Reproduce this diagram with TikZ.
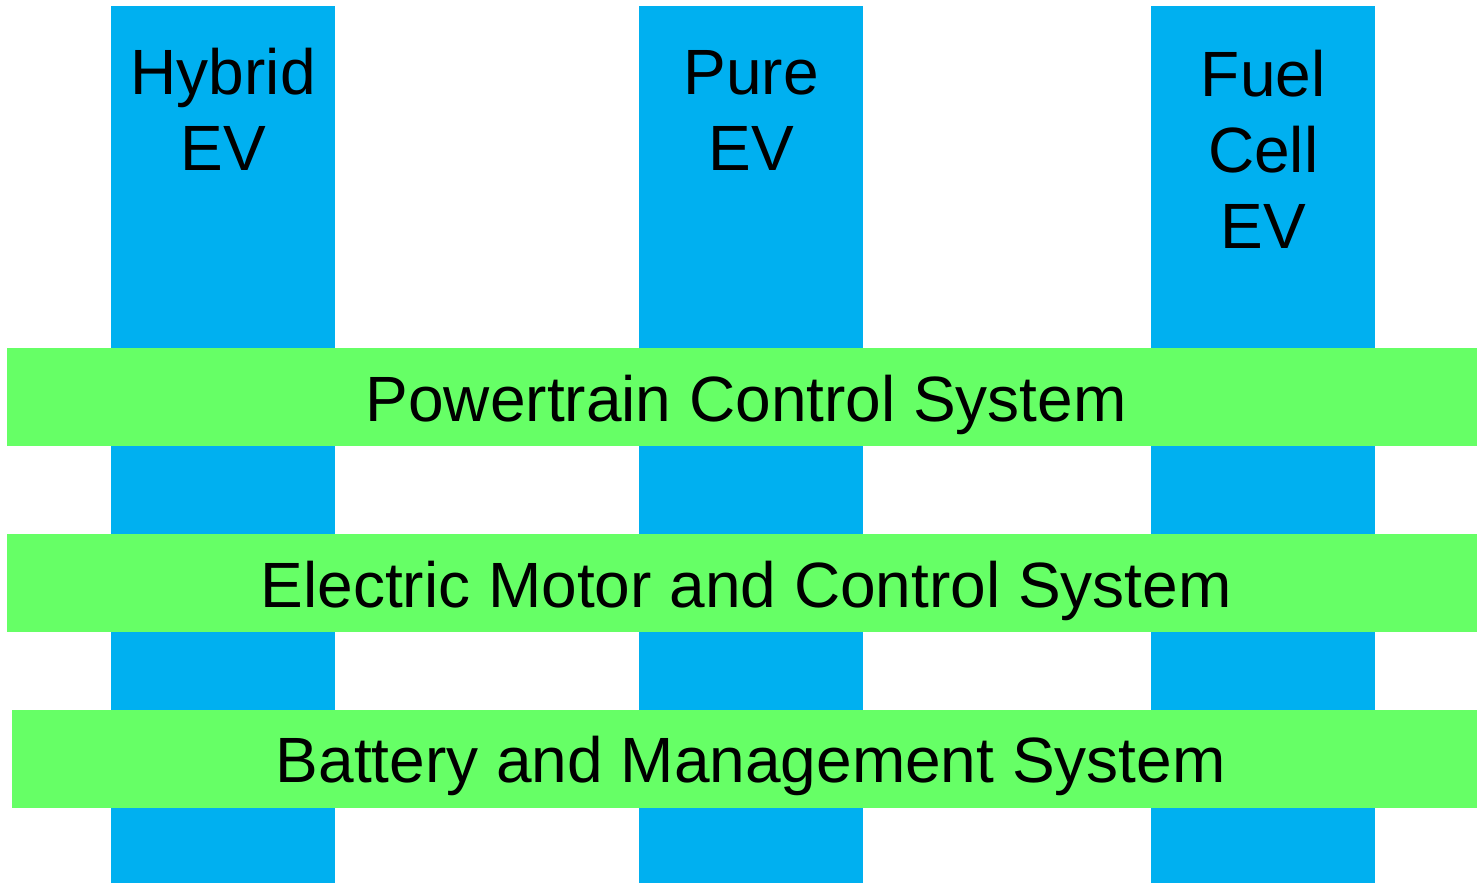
\documentclass[tikz,border=0pt]{standalone}
\usepackage{fontspec}
\setmainfont{Liberation Sans}
\definecolor{colblue}{HTML}{00B0F0}
\definecolor{bargreen}{HTML}{66FF66}
\begin{document}
\begin{tikzpicture}[x=1pt,y=1pt,
  column/.style={fill=colblue,draw=none,inner sep=0pt,anchor=north west},
  bar/.style={fill=bargreen,draw=none,inner sep=0pt,anchor=north west},
  label/.style={font=\fontsize{64}{76}\selectfont,align=center,inner sep=0pt,anchor=base},
]
\useasboundingbox (0,0) rectangle (1477,-883);
% columns
\node[column,minimum width=224pt,minimum height=877pt] (c1) at (111,-6) {};
\node[column,minimum width=224pt,minimum height=877pt] (c2) at (639,-6) {};
\node[column,minimum width=224pt,minimum height=877pt] (c3) at (1151,-6) {};
% bars
\node[bar,minimum width=1470pt,minimum height=97.5pt] (b1) at (7,-348) {};
\node[bar,minimum width=1470pt,minimum height=97.5pt] (b2) at (7,-534) {};
\node[bar,minimum width=1465pt,minimum height=97.5pt] (b3) at (12,-710) {};
% labels (base anchor = baseline of last line)
\node[label] (t1) at (c1.north |- 0,-170) {Hybrid\\EV};
\node[label] (t2) at (c2.north |- 0,-170) {Pure\\EV};
\node[label] (t3) at (c3.north |- 0,-248) {Fuel\\Cell\\EV};
\node[label,xshift=4pt] (l1) at (b1.center |- 0,-421) {Powertrain Control System};
\node[label,xshift=4pt] (l2) at (b2.center |- 0,-607) {Electric Motor and Control System};
\node[label,xshift=6pt] (l3) at (b3.center |- 0,-782) {Battery and Management System};
\end{tikzpicture}
\end{document}
